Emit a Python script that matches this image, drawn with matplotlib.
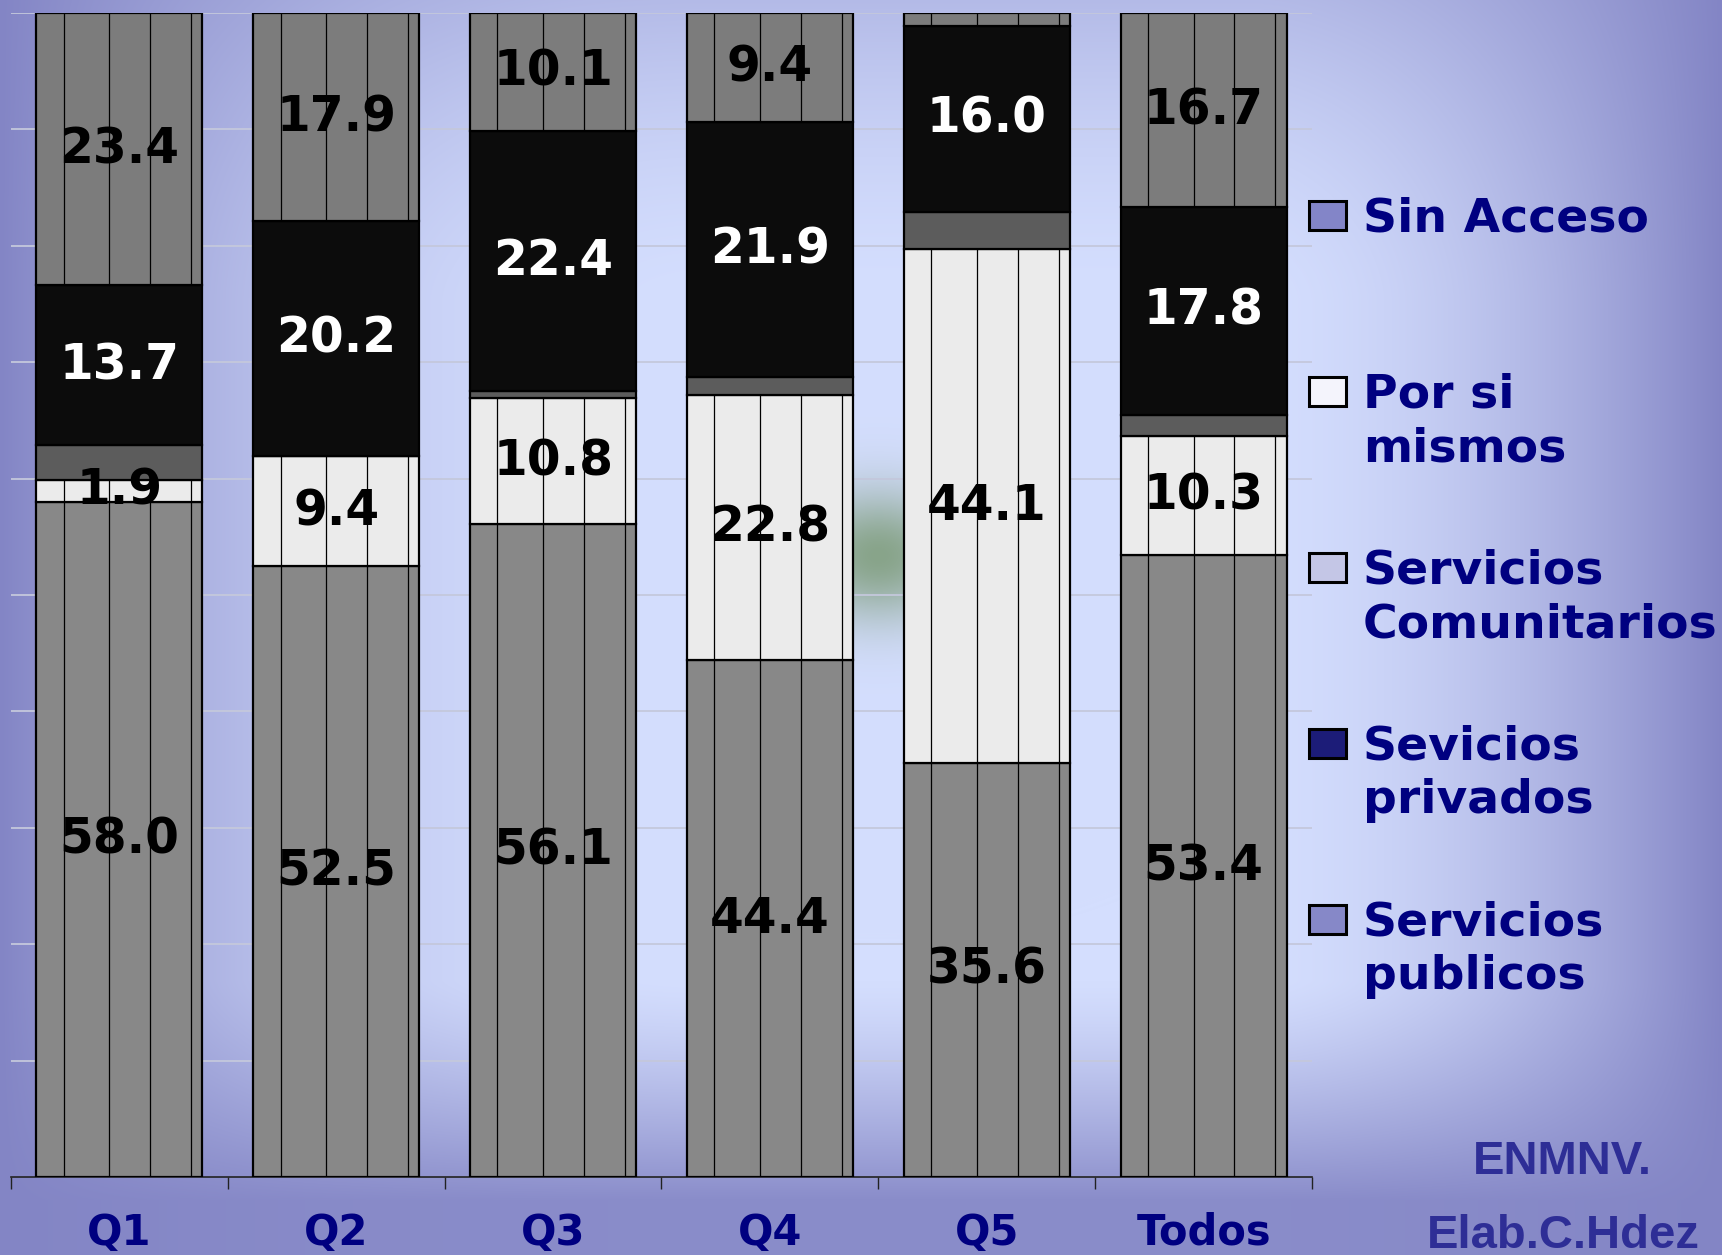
import numpy as np
import matplotlib
matplotlib.use("Agg")
import matplotlib.pyplot as plt
from matplotlib.patches import Rectangle

# ---------------- data ----------------
categories = ["Q1", "Q2", "Q3", "Q4", "Q5", "Todos"]
publicos = [58.0, 52.5, 56.1, 44.4, 35.6, 53.4]
por_si_mismos = [1.9, 9.4, 10.8, 22.8, 44.1, 10.3]
comunitarios = [3.0, 0.0, 0.6, 1.5, 3.2, 1.8]
privados = [13.7, 20.2, 22.4, 21.9, 16.0, 17.8]
sin_acceso = [23.4, 17.9, 10.1, 9.4, 1.1, 16.7]
legend_labels = ["Sin Acceso", "Por si\nmismos", "Servicios\nComunitarios",
                 "Sevicios\nprivados", "Servicios\npublicos"]
source_lines = ["ENMNV.", "Elab.C.Hdez"]

# ---------------- figure ----------------
W, H = 1722, 1255
fig = plt.figure(figsize=(W / 100, H / 100), dpi=100)

# background gradient
yy, xx = np.mgrid[0:H, 0:W].astype(float)
fx = np.clip(1 - xx / 720, 0, 1) ** 2.2
fx = np.maximum(fx, np.clip((xx - 1250) / (W - 1250), 0, 1) ** 1.66)
fy_top = 0.4 * np.clip((300 - yy) / 300, 0, 1) ** 1.6
fy_bot = 0.92 * np.clip((yy - 980) / 220, 0, 1) ** 1.3
fy = np.maximum(fy_top, fy_bot)
f = 1 - (1 - fx) * (1 - fy)
c_center = np.array([212, 222, 254]) / 255
c_edge = np.array([131, 133, 197]) / 255
img = c_center[None, None, :] * (1 - f[..., None]) + c_edge[None, None, :] * f[..., None]
# greenish glow
g = np.exp(-(((xx - 878) / 60) ** 2 + ((yy - 555) / 45) ** 2) / 2)
c_green = np.array([136, 164, 138]) / 255
img = img * (1 - g[..., None]) + c_green[None, None, :] * g[..., None]

bg = fig.add_axes([0, 0, 1, 1], zorder=-10)
bg.imshow(img, aspect="auto", extent=[0, 1, 0, 1], origin="upper")
bg.axis("off")

# main axes
ax_l, ax_r, ax_t, ax_b = 11, 1312, 13, 1177
ax = fig.add_axes([ax_l / W, 1 - ax_b / H, (ax_r - ax_l) / W, (ax_b - ax_t) / H])
ax.patch.set_alpha(0)

x = np.arange(len(categories))
bw = 0.766
series = [publicos, por_si_mismos, comunitarios, privados, sin_acceso]
colors = ["#888888", "#ebebeb", "#5c5c5c", "#0c0c0c", "#7c7c7c"]
label_colors = ["black", "black", None, "white", "black"]

bottom = np.zeros(len(categories))
bottoms = []
for vals, col in zip(series, colors):
    vals = np.array(vals)
    ax.bar(x, vals, width=bw, bottom=bottom, color=col, edgecolor="black",
           linewidth=1.6, zorder=3)
    bottoms.append(bottom.copy())
    bottom = bottom + vals

# vertical pattern lines inside gray / light segments
low_top = np.array(publicos) + np.array(por_si_mismos)
high_bot = bottoms[4]
tops = bottom
for off in [-0.257, -0.046, 0.142, 0.331]:
    ax.vlines(x + off, 0, low_top, color="black", lw=0.9, zorder=3.5)
    ax.vlines(x + off, high_bot, tops, color="black", lw=0.9, zorder=3.5)

# value labels
for vals, b, lc in zip(series, bottoms, label_colors):
    if lc is None:
        continue
    for xi, v, bi in zip(x, vals, b):
        if v > 1.5:
            ax.text(xi, bi + v / 2, f"{v:.1f}", ha="center", va="center",
                    fontsize=35, fontweight="bold", color=lc,
                    family="DejaVu Sans", zorder=6)

ax.set_xlim(-0.5, len(categories) - 0.5)
ax.set_ylim(0, 100)
ax.set_yticks(np.arange(10, 101, 10))
ax.yaxis.grid(True, color="#c4c8dc", lw=1.3)
ax.set_axisbelow(True)
ax.tick_params(axis="y", length=0, labelleft=False)
for s in ["top", "right", "left"]:
    ax.spines[s].set_visible(False)
ax.spines["bottom"].set_color("#222222")
ax.spines["bottom"].set_linewidth(1.2)
ax.set_xticks(np.arange(-0.5, len(categories), 1.0))
ax.set_xticklabels([])
ax.tick_params(axis="x", which="major", length=8.6, width=1.0, color="#222222")
ax.set_xticks(x, minor=True)
ax.set_xticklabels(categories, minor=True)
ax.tick_params(axis="x", which="minor", length=0, pad=25)
for t in ax.get_xticklabels(minor=True):
    t.set_fontsize(30)
    t.set_fontweight("bold")
    t.set_color("#000080")
    t.set_family("DejaVu Sans")

# legend (manual)
leg_faces = ["#8385c8", "#f4f4fc", "#c4c6e6", "#1c1c78", "#8688c8"]
base0 = 231
step = 176
for i, (lab, fc) in enumerate(zip(legend_labels, leg_faces)):
    base = base0 + i * step
    fig.patches.append(Rectangle((1309 / W, 1 - (base - 1) / H), 37 / W, 29 / H,
                                 transform=fig.transFigure, facecolor=fc,
                                 edgecolor="black", linewidth=2.2))
    for j, line in enumerate(lab.split("\n")):
        fig.text(1363 / W, 1 - (base + j * 54) / H, line, ha="left", va="baseline",
                 fontsize=34, fontweight="bold", color="#000080", family="DejaVu Sans")

# source text
fig.text(1562 / W, 1 - 1174 / H, source_lines[0], ha="center", va="baseline",
         fontsize=34, fontweight="bold", color="#2e2e96", family="Liberation Sans")
fig.text(1563 / W, 1 - 1248 / H, source_lines[1], ha="center", va="baseline",
         fontsize=34, fontweight="bold", color="#2e2e96", family="Liberation Sans")

fig.savefig("out.png", dpi=100)
